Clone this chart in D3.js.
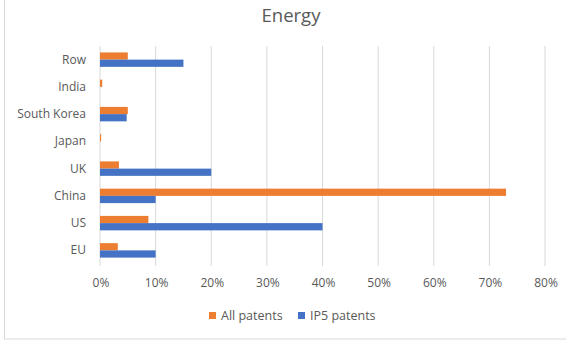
<!DOCTYPE html>
<html>
<head>
<meta charset="utf-8">
<script src="https://cdn.jsdelivr.net/npm/d3@7"></script>
<style>
  body { margin: 0; background: #fff; }
  text { font-family: "Open Sans", "Noto Sans", sans-serif; fill: #595959; }
</style>
</head>
<body>
<div id="chart"></div>
<script>
// categories, top to bottom
let categories = ["Row", "India", "South Korea", "Japan", "UK", "China", "US", "EU"];
let allPatents = [0.05, 0.004, 0.05, 0.002, 0.034, 0.73, 0.087, 0.032];
let ip5Patents = [0.15, 0, 0.048, 0, 0.20, 0.10, 0.40, 0.10];
let ticks = [0, 0.1, 0.2, 0.3, 0.4, 0.5, 0.6, 0.7, 0.8];
let seriesNames = ["All patents", "IP5 patents"];
let colors = ["#ed7d31", "#4472c4"];

let width = 566, height = 351;
let margin = {left: 100, right: 21, top: 46, bottom: 87};

let svg = d3.select("#chart").append("svg")
    .attr("width", width)
    .attr("height", height);

// chart frame
svg.append("rect")
    .attr("x", 4.5).attr("y", -2)
    .attr("width", 570).attr("height", 341)
    .attr("fill", "none")
    .attr("stroke", "#d9d9d9");

svg.append("text")
    .attr("x", 291).attr("y", 22)
    .attr("text-anchor", "middle")
    .style("font-size", "18.5px")
    .text("Energy");

let x = d3.scaleLinear()
    .domain([0, 0.8])
    .range([margin.left, width - margin.right]);

let y = d3.scaleBand()
    .domain(categories)
    .range([margin.top, height - margin.bottom])
    .paddingInner(0.47)
    .paddingOuter(0.235);

let sub = d3.scaleBand()
    .domain(seriesNames)
    .range([0, y.bandwidth()]);

// gridlines
svg.append("g")
    .selectAll("line")
    .data(ticks)
    .join("line")
    .attr("x1", d => x(d)).attr("x2", d => x(d))
    .attr("y1", margin.top).attr("y2", height - margin.bottom + 2)
    .attr("stroke", "#d9d9d9")
    .attr("stroke-width", 1);

// x tick labels
svg.append("g")
    .selectAll("text")
    .data(ticks)
    .join("text")
    .attr("x", d => x(d) + 1)
    .attr("y", 287)
    .attr("text-anchor", "middle")
    .style("font-size", "12px")
    .text(d => d3.format(".0%")(d));

// category labels
svg.append("g")
    .selectAll("text")
    .data(categories)
    .join("text")
    .attr("x", margin.left - 14)
    .attr("y", d => y(d) + y.bandwidth() / 2 + 4)
    .attr("text-anchor", "end")
    .style("font-size", "12px")
    .text(d => d);

let rows = categories.map((c, i) => ({cat: c, values: [allPatents[i], ip5Patents[i]]}));

let groups = svg.append("g")
    .selectAll("g")
    .data(rows)
    .join("g")
    .attr("transform", d => "translate(0," + y(d.cat) + ")");

groups.selectAll("rect")
    .data(d => d.values.map((v, j) => ({v: v, s: seriesNames[j], c: colors[j]})))
    .join("rect")
    .attr("x", x(0))
    .attr("y", d => sub(d.s))
    .attr("width", d => x(d.v) - x(0))
    .attr("height", sub.bandwidth())
    .attr("fill", d => d.c);

// legend
let legend = svg.append("g")
    .attr("transform", "translate(209,320)");
let items = legend.selectAll("g")
    .data(seriesNames)
    .join("g")
    .attr("transform", (d, i) => "translate(" + (i * 89) + ",0)");
items.append("rect")
    .attr("x", 0).attr("y", -8)
    .attr("width", 7).attr("height", 7)
    .attr("fill", (d, i) => colors[i]);
items.append("text")
    .attr("x", 12).attr("y", 0)
    .style("font-size", "12.5px")
    .text(d => d);
</script>
</body>
</html>
